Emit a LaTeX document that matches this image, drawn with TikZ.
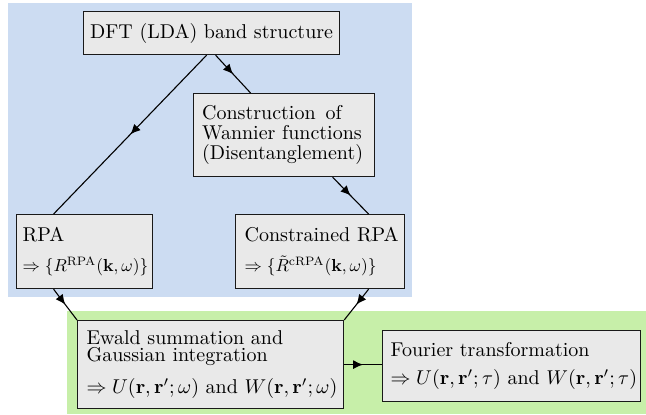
\documentclass[tikz,border=0pt]{standalone}
\usetikzlibrary{arrows.meta,decorations.markings}
\definecolor{bluebg}{RGB}{204,220,242}
\definecolor{greenbg}{RGB}{199,239,169}
\definecolor{boxfill}{RGB}{233,233,233}
\definecolor{boxline}{RGB}{25,25,25}
\tikzset{
  box/.style={draw=boxline, fill=boxfill, line width=0.6pt, rectangle,
    anchor=north west, inner ysep=0pt, align=left},
  conn/.style={draw=black, line width=0.55pt, postaction={decorate},
    decoration={markings, mark=at position 0.5 with {\arrow{Latex[length=5pt,width=4.5pt]}}}}
}
\begin{document}
\begin{tikzpicture}[x=0.5pt,y=-0.5pt]
\useasboundingbox (0,0) rectangle (646,414);
\fill[bluebg] (8,3) rectangle (412,297);
\fill[greenbg] (67,311) rectangle (646,414);

\node[box, align=center, inner xsep=1pt, text width=126pt, minimum width=128pt, minimum height=21.5pt] (dft) at (83,11) {\mbox{DFT (LDA) band structure}};

\node[box, inner xsep=4.25pt, text width=82pt, minimum width=90.5pt, minimum height=41.5pt] (con) at (193,93)
  {\mbox{Construction\hspace{5pt}of}\\[-2pt]\mbox{Wannier functions}\\[-2pt]\mbox{(Disentanglement)}};

\node[box, inner xsep=3pt, text width=62pt, minimum width=68pt, minimum height=37pt] (rpa) at (16,214)
  {RPA\\[3pt]\scalebox{0.87}{$\Rightarrow\{R^{\mathrm{RPA}}(\mathbf{k},\omega)\}$}};

\node[box, inner xsep=4.5pt, text width=75.5pt, minimum width=84.5pt, minimum height=37pt] (crpa) at (235,214)
  {\mbox{Constrained RPA}\\[3pt]\scalebox{0.87}{$\Rightarrow\{\tilde{R}^{\mathrm{cRPA}}(\mathbf{k},\omega)\}$}};

\node[box, inner xsep=4.5pt, text width=124pt, minimum width=133pt, minimum height=44pt] (ewald) at (77,320)
  {\mbox{Ewald summation and}\\[-3.5pt]\mbox{Gaussian integration}\\[4pt]\mbox{$\Rightarrow U(\mathbf{r},\mathbf{r}';\omega)$ and $W(\mathbf{r},\mathbf{r}';\omega)$}};

\node[box, inner xsep=4pt, text width=121pt, minimum width=129pt, minimum height=35.5pt] (fourier) at (382,330)
  {\mbox{Fourier transformation}\\[2pt]\mbox{$\Rightarrow U(\mathbf{r},\mathbf{r}';\tau)$ and $W(\mathbf{r},\mathbf{r}';\tau)$}};

\draw[conn] ([xshift=-2.5pt]dft.south) -- ([xshift=-15.5pt]rpa.north);
\draw[conn] ([xshift=2pt]dft.south) -- ([xshift=-16.75pt]con.north);
\draw[conn] ([xshift=24.25pt]con.south) -- ([xshift=24.25pt]crpa.north);
\draw[conn] ([xshift=-15.5pt]rpa.south) -- (ewald.north west);
\draw[conn] ([xshift=24.25pt]crpa.south) -- (ewald.north east);
\draw[conn] (ewald.east) -- (ewald.east -| fourier.west);
\end{tikzpicture}
\end{document}
